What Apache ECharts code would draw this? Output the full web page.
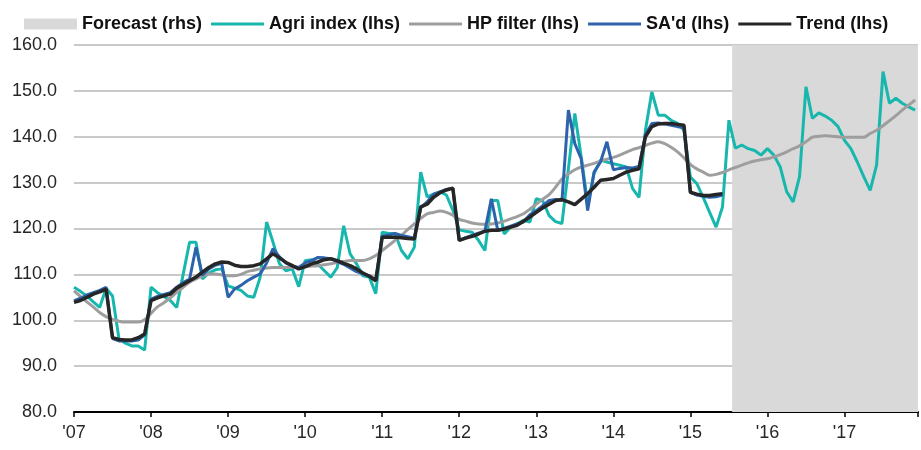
<!DOCTYPE html>
<html>
<head>
<meta charset="utf-8">
<script src="https://cdn.jsdelivr.net/npm/echarts@6/dist/echarts.min.js"></script>
<style>
  html, body { margin: 0; padding: 0; background: #fff; overflow: hidden; }
  #chart { width: 921px; height: 450px; }
</style>
</head>
<body>
<div id="chart"></div>
<script>
// monthly data, Jan 2007 .. Dec 2017
var years = ['07', '08', '09', '10', '11', '12', '13', '14', '15', '16', '17'];

var agri = [
  107.2, 106.3, 105.3, 104.0, 102.8, 107.0, 105.3, 96.0, 95.0, 94.4, 94.4, 93.5,
  107.2, 106.0, 105.2, 104.3, 102.8, 110.0, 117.0, 117.0, 109.0, 110.3, 111.0, 111.2,
  107.5, 107.0, 106.5, 105.3, 105.0, 109.4, 121.4, 117.0, 112.3, 110.8, 111.2, 107.3,
  113.0, 113.2, 112.2, 110.8, 109.4, 111.5, 120.6, 114.5, 112.3, 109.7, 109.4, 105.8,
  119.2, 118.9, 118.9, 115.2, 113.4, 115.9, 132.3, 126.9, 127.5, 128.0, 127.3, 124.0,
  119.7, 119.4, 119.2, 117.4, 115.2, 126.1, 126.1, 118.8, 120.3, 121.0, 121.8, 121.4,
  126.5, 126.0, 122.8, 121.5, 121.1, 133.0, 145.1, 135.6, 125.4, 132.0, 134.9, 134.5,
  134.1, 133.8, 133.4, 128.7, 126.8, 141.4, 149.8, 144.7, 144.7, 143.6, 142.9, 141.4,
  131.2, 129.8, 126.8, 123.5, 120.3, 124.7, 143.6, 137.5, 138.2, 137.4, 137.0, 136.0,
  137.4, 136.0, 133.4, 128.0, 125.8, 131.3, 150.9, 144.0, 145.2, 144.5, 143.6, 142.2,
  139.2, 137.4, 134.5, 131.3, 128.3, 133.8, 154.2, 147.3, 148.4, 147.3, 146.5, 145.8
];

var hp = [
  106.4, 105.2, 104.0, 102.9, 101.7, 100.8, 100.2, 99.8, 99.6, 99.6, 99.6, 100.1,
  101.5, 102.9, 103.8, 104.9, 106.1, 107.2, 108.3, 109.0, 109.6, 110.1, 110.1, 109.9,
  109.7, 109.7, 110.0, 110.6, 110.9, 111.2, 111.4, 111.5, 111.5, 111.5, 111.5, 111.5,
  111.6, 111.8, 111.9, 112.1, 112.3, 112.6, 112.8, 113.0, 113.0, 113.0, 113.4, 114.1,
  115.2, 116.3, 117.4, 118.5, 119.8, 121.0, 122.2, 123.2, 123.5, 123.8, 123.5, 122.9,
  122.0, 121.6, 121.2, 121.0, 120.9, 121.0, 121.2, 121.6, 122.1, 122.6, 123.2, 124.2,
  125.3, 126.4, 127.4, 129.0, 130.8, 131.9, 132.8, 133.4, 133.8, 134.2, 134.7, 135.1,
  135.5, 136.0, 136.6, 137.2, 137.6, 138.1, 138.6, 138.9, 138.5, 137.7, 136.7, 135.4,
  134.0, 133.0, 132.3, 131.6, 131.8, 132.2, 132.8, 133.3, 133.8, 134.3, 134.7, 135.0,
  135.2, 135.6, 136.1, 136.7, 137.4, 138.0, 138.9, 139.9, 140.1, 140.2, 140.1, 140.0,
  139.9, 139.9, 139.9, 139.9, 140.7, 141.4, 142.4, 143.5, 144.6, 145.8, 146.9, 148.0
];

var sa = [
  104.2, 104.8, 105.5, 106.0, 106.5, 107.2, 96.0, 95.5, 95.5, 95.5, 95.7, 96.8,
  104.6, 105.2, 105.6, 106.0, 107.2, 108.2, 109.0, 115.9, 109.8, 111.2, 112.0, 112.4,
  105.0, 106.8, 107.6, 108.6, 109.4, 110.1, 112.5, 115.6, 113.8, 112.5, 111.8, 111.5,
  112.5, 113.0, 113.7, 113.6, 113.4, 112.8, 112.2, 111.4, 110.6, 110.1, 109.7, 108.8,
  118.3, 118.6, 118.9, 118.5, 118.2, 117.9, 124.5, 125.8, 127.5, 128.0, 128.5, 128.8,
  117.4, 118.0, 118.5, 119.0, 119.5, 126.5, 119.6, 120.0, 120.5, 121.0, 121.4, 123.0,
  123.9, 125.0, 126.1, 126.3, 126.1, 145.8, 138.5, 135.2, 123.9, 132.3, 134.5, 138.9,
  132.8, 133.1, 133.3, 133.2, 133.5, 140.5, 142.9, 143.0, 142.8, 142.5, 142.2, 142.0,
  127.9, 127.3, 127.0, 126.8, 126.9, 127.3
];

var trend = [
  103.9, 104.3, 105.0, 105.7, 106.2, 106.8, 96.2, 95.8, 95.7, 95.7, 96.2, 97.0,
  104.3, 104.9, 105.3, 105.7, 107.0, 107.8, 108.6, 109.4, 110.5, 111.5, 112.3, 112.7,
  112.6, 112.0, 111.7, 111.7, 111.9, 112.3, 113.4, 114.5, 113.6, 112.6, 111.9, 111.2,
  111.7, 112.3, 112.7, 113.2, 113.4, 113.0, 112.4, 111.9, 111.2, 110.3, 109.6, 108.6,
  118.1, 118.1, 118.1, 118.0, 117.8, 117.7, 124.7, 125.3, 126.8, 127.8, 128.4, 128.8,
  117.4, 117.9, 118.3, 118.8, 119.4, 119.6, 119.6, 119.9, 120.3, 120.7, 121.6, 122.5,
  123.5, 124.5, 125.3, 126.1, 126.3, 125.8, 125.2, 126.4, 127.6, 129.0, 130.5, 130.7,
  130.9, 131.6, 132.3, 132.7, 133.0, 140.0, 142.2, 142.8, 142.9, 142.9, 142.7, 142.5,
  127.9, 127.5, 127.2, 127.2, 127.4, 127.6
];

// first forecast month (Aug 2015), forecast runs to the end of agri
var forecastStart = 103;

var font = "'Liberation Sans', Arial, sans-serif";
var lineIcon = 'path://M0,0 L53,0 L53,3 L0,3 Z';

function pairs(arr) {
  return arr.map(function (v, i) { return [i, v]; });
}

var chart = echarts.init(document.getElementById('chart'), null, { renderer: 'canvas', width: 921, height: 450 });
var lastIdx = agri.length - 1;
var xMax = lastIdx + 0.45;

var option = {
  animation: false,
  backgroundColor: '#fff',
  grid: { left: 74, right: 0, top: 45, bottom: 38, containLabel: false },
  legend: {
    left: 24,
    top: 15,
    padding: 0,
    itemWidth: 53,
    itemHeight: 11,
    itemGap: 9,
    textStyle: { fontFamily: font, fontSize: 18, fontWeight: 'bold', color: '#111' },
    data: [
      { name: 'Forecast (rhs)', icon: 'rect' },
      { name: 'Agri index (lhs)', icon: lineIcon },
      { name: 'HP filter (lhs)', icon: lineIcon },
      { name: "SA'd (lhs)", icon: lineIcon },
      { name: 'Trend (lhs)', icon: lineIcon }
    ]
  },
  xAxis: {
    type: 'value',
    min: 0,
    max: xMax,
    interval: 12,
    splitLine: { show: false },
    axisLine: { lineStyle: { color: '#000', width: 2 } },
    axisTick: { length: 5, lineStyle: { color: '#000', width: 1.5 } },
    axisLabel: {
      margin: 12,
      fontFamily: font, fontSize: 18, color: '#262626',
      formatter: function (v) {
        return v % 12 === 0 ? "'" + years[v / 12] : '';
      }
    }
  },
  yAxis: [{
    type: 'value',
    min: 80,
    max: 160,
    interval: 10,
    axisLine: { show: false },
    axisTick: { show: false },
    splitLine: { lineStyle: { color: '#c9c9c9', width: 2 } },
    axisLabel: {
      margin: 17,
      fontFamily: font, fontSize: 18, color: '#262626',
      formatter: function (v) { return v.toFixed(1); }
    }
  }, {
    type: 'value', min: 0, max: 1, show: false
  }],
  series: [
    {
      name: 'Forecast (rhs)',
      type: 'bar',
      yAxisIndex: 1,
      data: [],
      clip: false,
      itemStyle: { color: '#d9d9d9' },
      markArea: {
        silent: true,
        itemStyle: { color: '#d9d9d9' },
        data: [[{ xAxis: forecastStart - 0.5 }, { xAxis: xMax }]]
      }
    },
    {
      name: 'Agri index (lhs)', type: 'line', data: pairs(agri),
      symbol: 'none', color: '#17b7ae',
      lineStyle: { width: 3, color: '#17b7ae' }
    },
    {
      name: 'HP filter (lhs)', type: 'line', data: pairs(hp),
      symbol: 'none', color: '#9e9e9e', smooth: 0.3,
      lineStyle: { width: 3, color: '#9e9e9e' }
    },
    {
      name: "SA'd (lhs)", type: 'line', data: pairs(sa),
      symbol: 'none', color: '#2d63ac',
      lineStyle: { width: 3, color: '#2d63ac' }
    },
    {
      name: 'Trend (lhs)', type: 'line', data: pairs(trend),
      symbol: 'none', color: '#262626',
      lineStyle: { width: 3.5, color: '#262626' }
    }
  ]
};

chart.setOption(option);
</script>
</body>
</html>
